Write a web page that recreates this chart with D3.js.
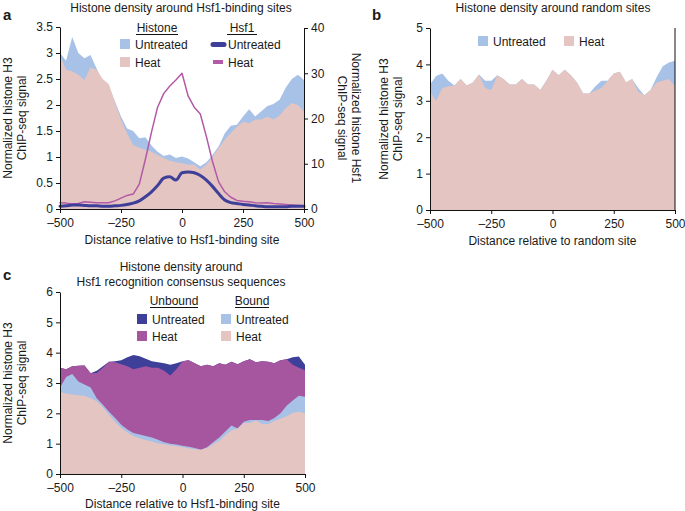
<!DOCTYPE html>
<html>
<head>
<meta charset="utf-8">
<script src="https://cdn.jsdelivr.net/npm/d3@7"></script>
<style>
  body { margin: 0; background: #fff; }
  text { font-family: "Liberation Sans", Arial, sans-serif; fill: #1a1a1a; }
</style>
</head>
<body>
<div id="chart"></div>
<script>
var width = 685;
var height = 511;

// positions along the site (bp), shared by every series
var pos = [-500, -475, -450, -425, -400, -375, -350, -325, -300, -275, -250, -225, -200,
  -175, -150, -125, -100, -75, -50, -25, 0, 25, 50, 75, 100, 125, 150, 175, 200,
  225, 250, 275, 300, 325, 350, 375, 400, 425, 450, 475, 500];
var xTicks = [-500, -250, 0, 250, 500];

// panel a: histone signal around Hsf1-binding sites
var aHistUntreated = [3.0, 2.85, 3.31, 3.0, 2.9, 2.96, 2.7, 2.45, 2.37, 2.07, 1.78, 1.55, 1.5,
  1.36, 1.38, 1.22, 1.1, 1.02, 1.05, 0.98, 1.01, 0.97, 0.9, 0.82, 0.9, 1.04, 1.2, 1.45, 1.6,
  1.62, 1.78, 1.92, 1.78, 1.88, 1.98, 2.02, 2.1, 2.33, 2.5, 2.58, 2.48];
var aHistHeat = [2.94, 2.68, 2.65, 2.58, 2.48, 2.72, 2.68, 2.5, 2.4, 2.05, 1.72, 1.45, 1.23,
  1.18, 1.14, 1.1, 1.04, 0.98, 0.93, 0.9, 0.88, 0.85, 0.85, 0.76, 0.85, 1.01, 1.17, 1.33, 1.46,
  1.58, 1.68, 1.65, 1.72, 1.72, 1.78, 1.72, 1.8, 1.94, 2.04, 2.0, 1.88];
// Hsf1 signal (right axis)
var aHsfUntreated = [0.6, 0.7, 0.9, 0.9, 0.8, 0.7, 0.7, 0.6, 0.6, 0.7, 0.8, 1.0, 1.3,
  1.8, 2.7, 3.8, 5.2, 6.8, 7.1, 6.4, 8.0, 8.2, 8.0, 7.4, 6.4, 5.0, 3.4, 2.0, 1.4,
  1.2, 1.0, 0.9, 0.7, 0.6, 0.5, 0.5, 0.5, 0.5, 0.6, 0.6, 0.6];
var aHsfHeat = [1.4, 1.3, 1.1, 1.2, 1.6, 1.5, 1.4, 1.4, 1.4, 1.8, 2.4, 3.0, 3.3,
  5.5, 11, 17, 22.5, 25.5, 27.2, 28.5, 30, 25, 22.5, 21, 16, 10.5, 6, 3.8, 2.6,
  1.9, 1.7, 1.6, 1.4, 1.3, 1.4, 1.2, 1.1, 1.0, 0.9, 0.8, 0.7];

// panel b: random sites
var bUntreated = [3.45, 3.68, 3.75, 3.55, 3.42, 3.6, 3.42, 3.5, 3.72, 3.55, 3.55, 3.7, 3.6,
  3.45, 3.45, 3.6, 3.45, 3.45, 3.3, 3.55, 3.85, 3.7, 3.85, 3.7, 3.5, 3.2, 3.2, 3.4, 3.55,
  3.55, 3.75, 3.8, 3.5, 3.6, 3.35, 3.15, 3.3, 3.65, 3.95, 4.05, 4.1];
var bHeat = [3.25, 3.0, 3.35, 3.4, 3.42, 3.6, 3.42, 3.5, 3.72, 3.35, 3.3, 3.7, 3.6,
  3.45, 3.45, 3.6, 3.45, 3.45, 3.3, 3.55, 3.85, 3.7, 3.85, 3.7, 3.5, 3.2, 3.2, 3.28, 3.35,
  3.55, 3.75, 3.8, 3.5, 3.6, 3.25, 3.15, 3.3, 3.5, 3.55, 3.6, 3.4];

// panel c: Hsf1 recognition consensus sequences
var cUnboundUntreated = [3.5, 3.45, 3.55, 3.57, 3.58, 3.32, 3.4, 3.55, 3.7, 3.72, 3.75, 3.85, 3.92,
  3.88, 3.8, 3.72, 3.68, 3.65, 3.6, 3.65, 3.72, 3.75, 3.65, 3.55, 3.6, 3.55, 3.65, 3.6, 3.7,
  3.62, 3.72, 3.78, 3.68, 3.72, 3.7, 3.65, 3.75, 3.78, 3.85, 3.87, 3.6];
var cUnboundHeat = [3.5, 3.45, 3.55, 3.57, 3.58, 3.32, 3.33, 3.5, 3.7, 3.68, 3.62, 3.55, 3.45,
  3.5, 3.55, 3.5, 3.5, 3.4, 3.25, 3.45, 3.72, 3.75, 3.65, 3.55, 3.6, 3.55, 3.65, 3.6, 3.7,
  3.62, 3.72, 3.78, 3.68, 3.72, 3.7, 3.65, 3.75, 3.78, 3.6, 3.5, 3.42];
var cBoundUntreated = [2.85, 3.2, 3.3, 3.05, 2.95, 2.85, 2.5, 2.28, 2.05, 1.85, 1.62, 1.47, 1.35,
  1.3, 1.25, 1.2, 1.13, 1.05, 1.0, 0.97, 0.93, 0.9, 0.86, 0.8, 0.88, 1.05, 1.2, 1.4, 1.6,
  1.5, 1.72, 1.78, 1.78, 1.78, 1.75, 1.85, 2.0, 2.25, 2.42, 2.58, 2.55];
var cBoundHeat = [2.7, 2.65, 2.62, 2.6, 2.58, 2.5, 2.4, 2.2, 1.95, 1.72, 1.52, 1.37, 1.25,
  1.18, 1.12, 1.07, 1.01, 0.98, 0.95, 0.92, 0.88, 0.85, 0.82, 0.8, 0.86, 0.98, 1.1, 1.28, 1.44,
  1.5, 1.68, 1.68, 1.76, 1.65, 1.65, 1.75, 1.82, 1.9, 2.02, 2.05, 2.0];

var cLightBlue = "#a7c1e7";
var cPink = "#e4c5c1";
var cNavy = "#3e3f99";
var cMagenta = "#b259a7";
var cPurple = "#a6559f";

var svg = d3.select("#chart").append("svg")
  .attr("width", width)
  .attr("height", height);

function rows(vals) {
  return pos.map(function(p, i) { return [p, vals[i]]; });
}

function addArea(x, y, vals, color) {
  var area = d3.area()
    .x(function(d) { return x(d[0]); })
    .y0(y(0))
    .y1(function(d) { return y(d[1]); });
  svg.append("path").attr("d", area(rows(vals))).attr("fill", color);
}

function addLine(x, y, vals, color, w, curve) {
  var line = d3.line()
    .x(function(d) { return x(d[0]); })
    .y(function(d) { return y(d[1]); })
    .curve(curve || d3.curveLinear);
  svg.append("path").attr("d", line(rows(vals)))
    .attr("fill", "none").attr("stroke", color).attr("stroke-width", w)
    .attr("stroke-linejoin", "round").attr("stroke-linecap", "round");
}

function styleAxis(g) {
  g.selectAll("path,line").attr("stroke", "#111");
  g.selectAll("text").style("font-size", "12px").style("font-family", "Liberation Sans, Arial, sans-serif").attr("fill", "#1a1a1a");
}

function fmtX(d) { return d < 0 ? "\u2013" + Math.abs(d) : d; }

function xAxis(x, y0, label, labelY) {
  var g = svg.append("g").attr("transform", "translate(0," + y0 + ")")
    .call(d3.axisBottom(x).tickValues(xTicks).tickFormat(fmtX).tickSize(4).tickSizeOuter(0).tickPadding(5));
  styleAxis(g);
  svg.append("text").attr("x", (x.range()[0] + x.range()[1]) / 2).attr("y", labelY)
    .attr("text-anchor", "middle").style("font-size", "12px").text(label);
}

function yLabel(lines, xs, cy, rot) {
  lines.forEach(function(t, i) {
    svg.append("text")
      .attr("transform", "translate(" + xs[i] + "," + cy + ") rotate(" + rot + ")")
      .attr("text-anchor", "middle").style("font-size", "12px").text(t);
  });
}

function swatch(x0, y0, color, label) {
  svg.append("rect").attr("x", x0).attr("y", y0).attr("width", 10).attr("height", 10).attr("fill", color);
  svg.append("text").attr("x", x0 + 15).attr("y", y0 + 9.5).style("font-size", "12px").text(label);
}

function header(cx, y0, label, w) {
  svg.append("text").attr("x", cx).attr("y", y0).attr("text-anchor", "middle").style("font-size", "12px").text(label);
  svg.append("line").attr("x1", cx - w / 2).attr("x2", cx + w / 2).attr("y1", y0 + 2.5).attr("y2", y0 + 2.5)
    .attr("stroke", "#111").attr("stroke-width", 1);
}

function letter(x0, y0, t) {
  svg.append("text").attr("x", x0).attr("y", y0).style("font-size", "15px").style("font-weight", "bold").text(t);
}

function title(cx, y0, t) {
  svg.append("text").attr("x", cx).attr("y", y0).attr("text-anchor", "middle").style("font-size", "12px").text(t);
}

// ---------- panel a ----------
var xa = d3.scaleLinear().domain([-500, 500]).range([60, 304]);
var ya = d3.scaleLinear().domain([0, 3.5]).range([209, 27]);
var ya2 = d3.scaleLinear().domain([0, 40]).range([209, 28]);

addArea(xa, ya, aHistUntreated, cLightBlue);
addArea(xa, ya, aHistHeat, cPink);
addLine(xa, ya2, aHsfHeat, cMagenta, 1.5);
addLine(xa, ya2, aHsfUntreated, cNavy, 3, d3.curveMonotoneX);

styleAxis(svg.append("g").attr("transform", "translate(60,0)")
  .call(d3.axisLeft(ya).tickValues([0, 0.5, 1, 1.5, 2, 2.5, 3, 3.5]).tickFormat(d3.format("")).tickSize(4).tickSizeOuter(0).tickPadding(3)));
styleAxis(svg.append("g").attr("transform", "translate(304,0)")
  .call(d3.axisRight(ya2).tickValues([0, 10, 20, 30, 40]).tickFormat(d3.format("")).tickSize(4).tickSizeOuter(0).tickPadding(3)));
xAxis(xa, 209, "Distance relative to Hsf1-binding site", 244);

letter(3, 20, "a");
title(181, 12, "Histone density around Hsf1-binding sites");
yLabel(["Normalized histone H3", "ChIP-seq signal"], [12, 26], 118, -90);
yLabel(["Normalized histone Hsf1", "ChIP-seq signal"], [352, 338], 118, 90);

header(157, 32, "Histone", 42);
swatch(120, 39, cLightBlue, "Untreated");
swatch(120, 57, cPink, "Heat");
header(242, 32, "Hsf1", 30);
svg.append("line").attr("x1", 213).attr("x2", 224).attr("y1", 44.5).attr("y2", 44.5)
  .attr("stroke", cNavy).attr("stroke-width", 5).attr("stroke-linecap", "round");
svg.append("rect").attr("x", 213).attr("y", 60).attr("width", 10).attr("height", 4).attr("fill", cMagenta);
svg.append("text").attr("x", 228).attr("y", 48.5).style("font-size", "12px").text("Untreated");
svg.append("text").attr("x", 228).attr("y", 66.5).style("font-size", "12px").text("Heat");

// ---------- panel b ----------
var xb = d3.scaleLinear().domain([-500, 500]).range([430, 675]);
var yb = d3.scaleLinear().domain([0, 5]).range([210, 28]);

addArea(xb, yb, bUntreated, cLightBlue);
addArea(xb, yb, bHeat, cPink);

styleAxis(svg.append("g").attr("transform", "translate(430,0)")
  .call(d3.axisLeft(yb).tickValues([0, 1, 2, 3, 4, 5]).tickFormat(d3.format("")).tickSize(4).tickSizeOuter(0).tickPadding(3)));
svg.append("line").attr("x1", 675).attr("x2", 675).attr("y1", 28).attr("y2", 210).attr("stroke", "#111");
xAxis(xb, 210, "Distance relative to random site", 245);

letter(372, 20, "b");
title(553, 12, "Histone density around random sites");
yLabel(["Normalized histone H3", "ChIP-seq signal"], [388, 402], 119, -90);
swatch(478, 36, cLightBlue, "Untreated");
swatch(564, 36, cPink, "Heat");

// ---------- panel c ----------
var xc = d3.scaleLinear().domain([-500, 500]).range([60, 305]);
var yc = d3.scaleLinear().domain([0, 6]).range([474, 292]);

addArea(xc, yc, cUnboundUntreated, cNavy);
addArea(xc, yc, cUnboundHeat, cPurple);
addArea(xc, yc, cBoundUntreated, cLightBlue);
addArea(xc, yc, cBoundHeat, cPink);

styleAxis(svg.append("g").attr("transform", "translate(60,0)")
  .call(d3.axisLeft(yc).tickValues([0, 1, 2, 3, 4, 5, 6]).tickFormat(d3.format("")).tickSize(4).tickSizeOuter(0).tickPadding(3)));
xAxis(xc, 474, "Distance relative to Hsf1-binding site", 508);

letter(3, 280, "c");
title(181, 271, "Histone density around");
title(181, 286, "Hsf1 recognition consensus sequences");
yLabel(["Normalized histone H3", "ChIP-seq signal"], [12, 26], 383, -90);

header(174, 305, "Unbound", 48);
swatch(137, 314, cNavy, "Untreated");
swatch(137, 331, cPurple, "Heat");
header(252, 305, "Bound", 34);
swatch(221, 314, cLightBlue, "Untreated");
swatch(221, 331, cPink, "Heat");
</script>
</body>
</html>
